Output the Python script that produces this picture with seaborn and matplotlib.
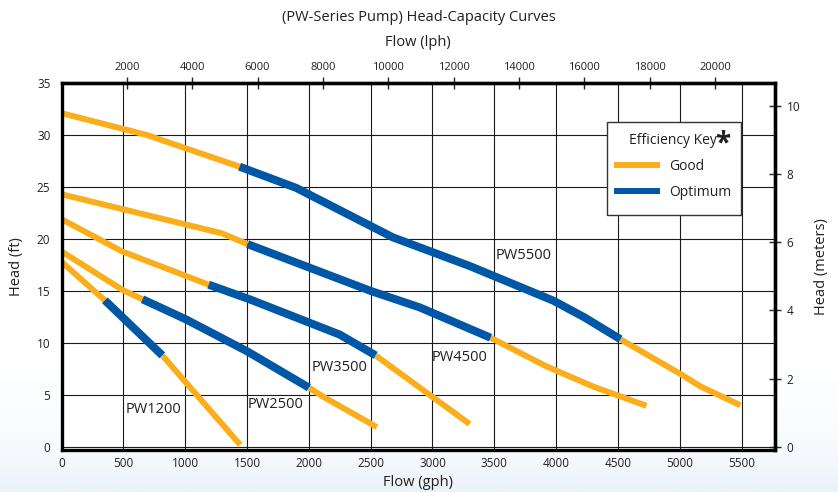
import numpy as np
import pandas as pd
import seaborn as sns
import matplotlib.pyplot as plt
from matplotlib.lines import Line2D
from matplotlib.patches import Rectangle
from matplotlib.colors import LinearSegmentedColormap

# head-capacity points (gph, ft), with optimum range per pump
pumps = ["PW1200", "PW2500", "PW3500", "PW4500", "PW5500"]

pw1200_gph = [0, 350, 815, 1445]
pw1200_ft = [17.8, 14.1, 8.8, 0.2]
pw1200_opt = (350, 815)

pw2500_gph = [0, 500, 655, 1000, 1500, 2000, 2120, 2550]
pw2500_ft = [18.8, 15.05, 14.2, 12.3, 9.2, 5.7, 4.8, 1.9]
pw2500_opt = (655, 2000)

pw3500_gph = [0, 490, 1190, 1520, 2250, 2540, 3300]
pw3500_ft = [21.9, 18.8, 15.6, 14.2, 10.8, 8.8, 2.2]
pw3500_opt = (1190, 2540)

pw4500_gph = [0, 1295, 1505, 2500, 2900, 3470, 3920, 4300, 4730]
pw4500_ft = [24.3, 20.55, 19.5, 15.0, 13.4, 10.5, 7.75, 5.8, 3.95]
pw4500_opt = (1505, 3470)

pw5500_gph = [0, 690, 1440, 1900, 2680, 3300, 3980, 4230, 4520, 5000, 5170, 5490]
pw5500_ft = [32.1, 30.0, 26.95, 24.9, 20.15, 17.4, 14.05, 12.45, 10.35, 7.05, 5.8, 4.0]
pw5500_opt = (1440, 4520)

gph_ticks = list(range(0, 5501, 500))
ft_ticks = list(range(0, 36, 5))
lph_ticks = [2000, 4000, 6000, 8000, 10000, 12000, 14000, 16000, 18000, 20000]
m_ticks = [0, 2, 4, 6, 8, 10]

curves = {
    "PW1200": (pw1200_gph, pw1200_ft, pw1200_opt),
    "PW2500": (pw2500_gph, pw2500_ft, pw2500_opt),
    "PW3500": (pw3500_gph, pw3500_ft, pw3500_opt),
    "PW4500": (pw4500_gph, pw4500_ft, pw4500_opt),
    "PW5500": (pw5500_gph, pw5500_ft, pw5500_opt),
}

rows = []
for name in pumps:
    g, f, (lo, hi) = curves[name]
    for seg, zone, keep in [("lo", "Good", lambda v: v <= lo),
                            ("opt", "Optimum", lambda v: lo <= v <= hi),
                            ("hi", "Good", lambda v: v >= hi)]:
        for gv, fv in zip(g, f):
            if keep(gv):
                rows.append({"unit": name + seg, "zone": zone, "gph": gv, "ft": fv})
df = pd.DataFrame(rows)

sns.set_style("white")
plt.rcParams["font.family"] = ["Open Sans", "DejaVu Sans"]

orange = "#FBAE1B"
blue = "#0057A6"
ink = "#231F20"

fig, ax = plt.subplots(figsize=(8.38, 4.92), dpi=100)
fig.subplots_adjust(left=0.0734, right=0.9248, bottom=0.0854, top=0.8313)

# faint blue fade at the bottom of the page
bg = fig.add_axes([0, 0, 1, 1], zorder=-10)
fade = LinearSegmentedColormap.from_list("fade", ["white", "#EAF2FA"])
bg.imshow(np.linspace(0, 1, 256).reshape(-1, 1) ** 10, aspect="auto", cmap=fade,
          extent=[0, 1, 0, 1], origin="upper")
bg.set_xlim(0, 1)
bg.set_ylim(0, 1)
bg.axis("off")

ax.set_facecolor("white")
sns.lineplot(data=df, x="gph", y="ft", hue="zone", size="zone", units="unit",
             estimator=None, sort=False, palette={"Good": orange, "Optimum": blue},
             sizes={"Good": 4.3, "Optimum": 5.8}, legend=False, ax=ax,
             solid_capstyle="butt")

ax.set_xlim(0, 5770)
ax.set_ylim(-0.3, 35)
ax.set_xticks(gph_ticks)
ax.set_yticks(ft_ticks)
ax.grid(True, color="#1a1a1a", lw=0.8)
ax.tick_params(length=0, labelsize=8.5, labelcolor=ink)
ax.tick_params(axis="y", pad=8)
ax.tick_params(axis="x", pad=5)
for s in ax.spines.values():
    s.set_linewidth(2.4)
    s.set_color("black")
ax.set_xlabel("Flow (gph)", fontsize=10.5, labelpad=4, color=ink)
ax.set_ylabel("Head (ft)", fontsize=10.5, labelpad=9, color=ink)

top = ax.secondary_xaxis("top", functions=(lambda g: g * 3.785, lambda l: l / 3.785))
top.set_xticks(lph_ticks)
top.tick_params(direction="inout", length=9, width=1, labelsize=8, pad=3, labelcolor=ink)
top.set_xlabel("Flow (lph)", fontsize=10.5, labelpad=11, color=ink)
for s in top.spines.values():
    s.set_linewidth(2.4)

right = ax.secondary_yaxis("right", functions=(lambda f: f / 3.281, lambda m: m * 3.281))
right.set_yticks(m_ticks)
right.tick_params(direction="inout", length=9, width=1, labelsize=8.5, pad=4, labelcolor=ink)
right.set_ylabel("Head (meters)", fontsize=10.5, labelpad=10, color=ink)
for s in right.spines.values():
    s.set_linewidth(2.4)

fig.suptitle("(PW-Series Pump) Head-Capacity Curves", fontsize=10.5, y=0.965,
             va="center", color=ink)

labels = {"PW1200": (744, 3.6), "PW2500": (1730, 4.1), "PW3500": (2245, 7.6),
          "PW4500": (3220, 8.6), "PW5500": (3735, 18.4)}
for name, (lx, ly) in labels.items():
    ax.text(lx, ly, name, fontsize=10.5, ha="center", va="center", color=ink)

# legend: white box drawn separately so its margins match the original key
ax.add_patch(Rectangle((0.7645, 0.6403), 0.1878, 0.2534, transform=ax.transAxes,
                       facecolor="white", edgecolor="#333333", lw=1, zorder=4.9))
handles = [Line2D([], [], color=orange, lw=4.3, solid_capstyle="butt"),
           Line2D([], [], color=blue, lw=4.3, solid_capstyle="butt")]
leg = ax.legend(handles, ["Good", "Optimum"], title="Efficiency Key", loc="upper left",
                bbox_to_anchor=(0.7744, 0.8638), borderaxespad=0, borderpad=0,
                frameon=False, fontsize=10, title_fontsize=10, handlelength=3.3,
                handletextpad=0.65, labelspacing=0.8, labelcolor=ink)
leg.get_title().set_color(ink)
ax.text(0.927, 0.833, "*", transform=ax.transAxes, fontsize=20, fontweight="bold",
        ha="center", va="center", zorder=10, color=ink)

fig.savefig("out.png", dpi=100)
